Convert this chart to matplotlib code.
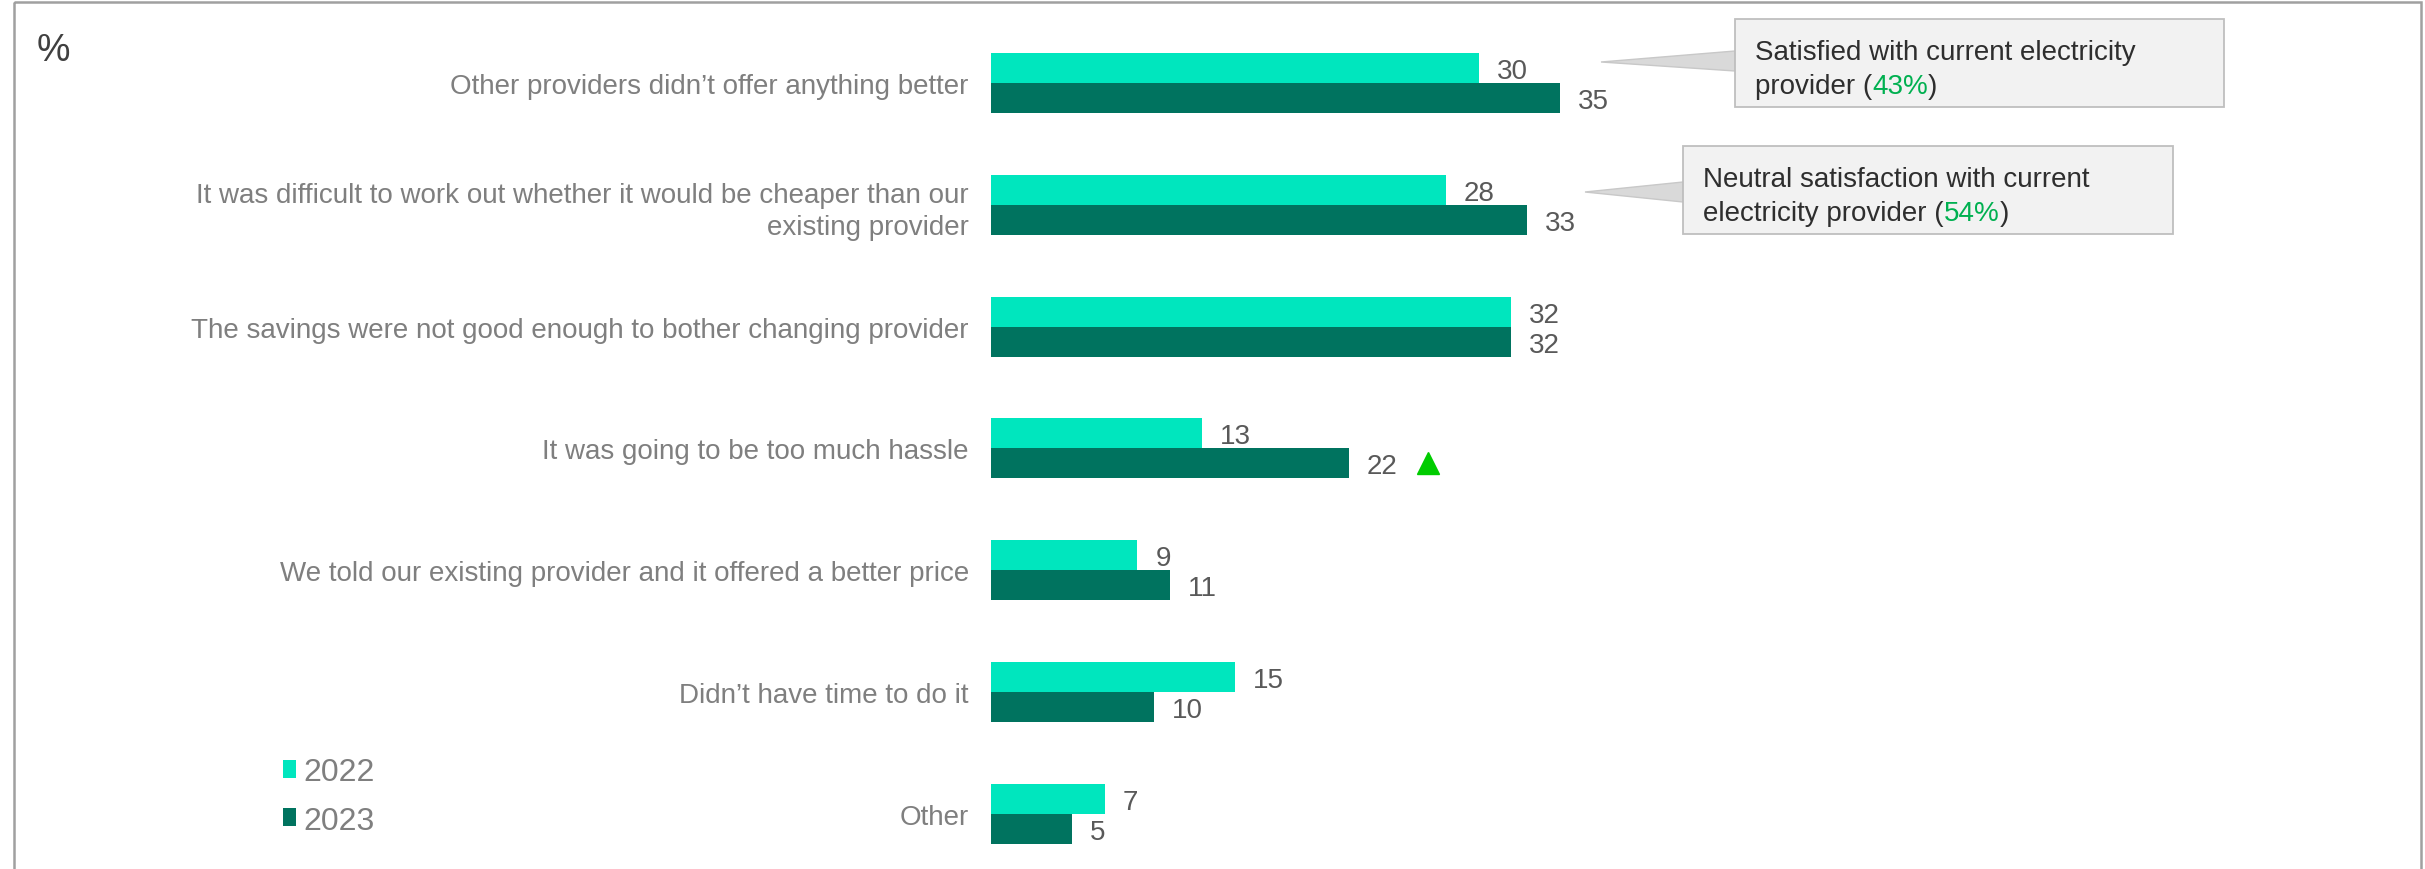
import numpy as np
import matplotlib.pyplot as plt
from matplotlib.patches import Rectangle, Polygon

plt.rcParams['font.family'] = ['Liberation Sans', 'DejaVu Sans']

categories = ["Other providers didn\u2019t offer anything better",
              "It was difficult to work out whether it would be cheaper than our\nexisting provider",
              "The savings were not good enough to bother changing provider",
              "It was going to be too much hassle",
              "We told our existing provider and it offered a better price",
              "Didn\u2019t have time to do it",
              "Other"]
vals_2022 = [30, 28, 32, 13, 9, 15, 7]
vals_2023 = [35, 33, 32, 22, 11, 10, 5]
sig_up_2023 = [False, False, False, True, False, False, False]

c22 = '#00E6BE'
c23 = '#00735F'
W, H = 2425, 870

fig = plt.figure(figsize=(W / 100, H / 100), dpi=100)

# overlay in pixel coords for frame / callouts
ov = fig.add_axes([0, 0, 1, 1])
ov.set_xlim(0, W)
ov.set_ylim(H, 0)
ov.axis('off')
ov.add_patch(Rectangle((14, 3), W - 18, H + 20, fill=False, ec='#A0A0A0', lw=1.8))

# main bar axes
px_per_unit = 16.25
x0 = 991
ax = fig.add_axes([x0 / W, 0, (W - 10 - x0) / W, 1])
ax.set_facecolor('none')
ax.set_xlim(0, (W - 10 - x0) / px_per_unit)
pitch = 121.8
top0 = 84
ax.set_ylim((H - top0) / pitch, -top0 / pitch)

y = np.arange(len(categories))
bh = 30 / pitch
b22 = ax.barh(y - bh / 2, vals_2022, height=bh, color=c22, label='2022')
b23 = ax.barh(y + bh / 2, vals_2023, height=bh, color=c23, label='2023')
for b in (b22, b23):
    for t in ax.bar_label(b, padding=13, fontsize=20, color='#595959'):
        t.set_va('center_baseline')

for i, flag in enumerate(sig_up_2023):
    if flag:
        ax.plot(vals_2023[i] + 4.9, y[i] + bh / 2, marker='^', ms=16, color='#00CC00', mec='#00CC00')

ax.set_yticks(y)
ax.set_yticklabels(categories, fontsize=20, color='#7F7F7F', linespacing=1.3)
ax.tick_params(axis='y', length=0, pad=16)
ax.tick_params(axis='x', bottom=False, labelbottom=False)
for s in ax.spines.values():
    s.set_visible(False)

# percent sign
ov.text(37, 51, '%', fontsize=27, color='#404040', va='center', ha='left')

# legend
fig.legend(handles=[b22, b23], loc='upper left', bbox_to_anchor=(283 / W, 1 - 758 / H),
           frameon=False, fontsize=23, labelcolor='#7F7F7F', handlelength=0.4,
           handleheight=0.5, handletextpad=0.25, labelspacing=0.58, borderpad=0, borderaxespad=0)

# callouts
def callout(box, tip, base, line1, line2a, pct, line2b):
    bx0, by0, bx1, by1 = box
    ov.add_patch(Polygon([tip, (bx0, base[0]), (bx0, base[1])], closed=True,
                         fc='#D9D9D9', ec='#C8C8C8', lw=1))
    ov.add_patch(Rectangle((bx0, by0), bx1 - bx0, by1 - by0, fc='#F2F2F2', ec='#BFBFBF', lw=1.3))
    tx = bx0 + 20
    ov.text(tx, by0 + 30, line1, fontsize=20, color='#2E2E2E', va='center_baseline')
    t1 = ov.text(tx, by0 + 64, line2a, fontsize=20, color='#2E2E2E', va='center_baseline')
    t2 = ov.annotate(pct, xy=(1, 0), xycoords=t1, va='bottom', ha='left', fontsize=20, color='#00B050')
    ov.annotate(line2b, xy=(1, 0), xycoords=t2, va='bottom', ha='left', fontsize=20, color='#2E2E2E')

callout((1735, 20, 2224, 108), (1601, 63), (52, 72),
        'Satisfied with current electricity', 'provider (', '43%', ')')
callout((1683, 147, 2173, 235), (1585, 193), (183, 203),
        'Neutral satisfaction with current', 'electricity provider (', '54%', ')')

fig.savefig('out.png', dpi=100)
